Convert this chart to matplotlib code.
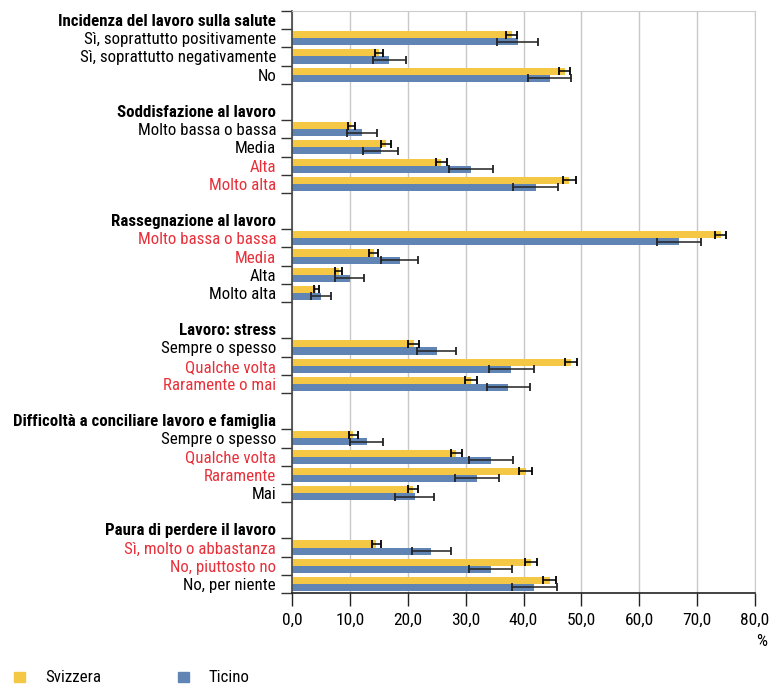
import matplotlib
matplotlib.use("Agg")
import matplotlib.pyplot as plt
import numpy as np
from matplotlib.patches import Rectangle

plt.rcParams['font.family'] = ['Roboto Condensed', 'Archivo Narrow', 'PT Sans Narrow', 'DejaVu Sans']

groups = ["Incidenza del lavoro sulla salute", "Soddisfazione al lavoro",
          "Rassegnazione al lavoro", "Lavoro: stress",
          "Difficoltà a conciliare lavoro e famiglia", "Paura di perdere il lavoro"]
group_sizes = [3, 4, 4, 3, 4, 3]
categories = ["Sì, soprattutto positivamente", "Sì, soprattutto negativamente", "No",
              "Molto bassa o bassa", "Media", "Alta", "Molto alta",
              "Molto bassa o bassa", "Media", "Alta", "Molto alta",
              "Sempre o spesso", "Qualche volta", "Raramente o mai",
              "Sempre o spesso", "Qualche volta", "Raramente", "Mai",
              "Sì, molto o abbastanza", "No, piuttosto no", "No, per niente"]
highlight = [False, False, False,
             False, False, True, True,
             True, True, False, False,
             False, True, True,
             False, True, True, False,
             True, True, False]
svizzera = [38.0, 15.0, 47.1,
            10.2, 16.3, 25.8, 47.9,
            74.1, 14.1, 8.1, 4.2,
            21.0, 48.2, 30.9,
            10.6, 28.4, 40.4, 20.9,
            14.6, 41.3, 44.5]
svizzera_err = [0.95, 0.7, 1.0,
                0.6, 0.85, 1.0, 1.1,
                0.95, 0.75, 0.6, 0.45,
                0.9, 1.05, 1.0,
                0.75, 1.0, 1.1, 0.9,
                0.7, 1.0, 1.05]
ticino = [39.0, 16.8, 44.5,
          12.1, 15.3, 30.9, 42.1,
          66.8, 18.6, 10.0, 5.0,
          25.0, 37.9, 37.4,
          12.9, 34.4, 31.9, 21.2,
          24.1, 34.3, 41.9]
ticino_err = [3.55, 2.85, 3.75,
              2.6, 2.95, 3.75, 3.9,
              3.8, 3.15, 2.5, 1.75,
              3.4, 3.9, 3.75,
              2.8, 3.85, 3.8, 3.4,
              3.35, 3.75, 3.9]

YELLOW = "#F4C744"
BLUE = "#6085B4"
RED = "#E8303A"
FS = 12.2

# build slot positions
labels, label_pos, label_bold, label_red = [], [], [], []
bar_pos = []
boundaries = []
slot = 0
k = 0
for gi, (g, n) in enumerate(zip(groups, group_sizes)):
    if gi > 0:
        slot += 1  # blank slot
    else:
        boundaries.append(slot - 0.5)
    labels.append(g); label_pos.append(slot); label_bold.append(True); label_red.append(False)
    boundaries.append(slot + 0.5)
    slot += 1
    for j in range(n):
        labels.append(categories[k]); label_pos.append(slot)
        label_bold.append(False); label_red.append(highlight[k])
        bar_pos.append(slot)
        boundaries.append(slot + 0.5)
        slot += 1
        k += 1
nslots = slot
bar_pos = np.array(bar_pos, dtype=float)

fig = plt.figure(figsize=(7.82, 6.86), dpi=100)
ax = fig.add_axes([292/782, 1 - 593/686, (755-292)/782, (593-11)/686])

h = 0.39
ax.barh(bar_pos - h/2, svizzera, height=h, color=YELLOW, zorder=2)
ax.barh(bar_pos + h/2, ticino, height=h, color=BLUE, zorder=2)
ax.errorbar(svizzera, bar_pos - h/2, xerr=svizzera_err, fmt='none', ecolor='black',
            elinewidth=1.1, capsize=2.9, capthick=1.3, zorder=3)
ax.errorbar(ticino, bar_pos + h/2, xerr=ticino_err, fmt='none', ecolor='#222222',
            elinewidth=1.1, capsize=2.9, capthick=1.3, zorder=3)

ax.set_xlim(0, 80)
ax.set_ylim(nslots - 0.5, -0.5)
ax.set_xticks(np.arange(0, 81, 10))
ax.set_xticklabels([f"{v:.1f}".replace('.', ',') for v in np.arange(0, 81, 10)], fontsize=12.5)
ax.xaxis.grid(True, color='#c8c8c8', linewidth=1, zorder=0)
ax.set_axisbelow(True)
ax.tick_params(axis='x', length=9, width=1, color='#222222', pad=5.5)

ax.set_yticks(label_pos)
ax.set_yticklabels(labels, fontsize=FS)
for t, b, r in zip(ax.get_yticklabels(), label_bold, label_red):
    if b:
        t.set_fontweight('bold')
    if r:
        t.set_color(RED)
ax.tick_params(axis='y', which='major', length=0, pad=11.5)
ax.set_yticks(boundaries, minor=True)
ax.tick_params(axis='y', which='minor', length=8, width=1, color='#333333')

for s in ['top', 'right']:
    ax.spines[s].set_color('#cccccc')
ax.spines['left'].set_color('#444444')
ax.spines['bottom'].set_color('#222222')
ax.spines['left'].set_linewidth(1.2)
ax.spines['bottom'].set_linewidth(1.2)

fig.text(767/782, 1 - 642/686, "%", ha='right', va='center', fontsize=12.5)

# legend
fig.patches.append(Rectangle((14/782, 1 - 682/686), 11/782, 10/686, transform=fig.transFigure,
                             color=YELLOW, figure=fig))
fig.text(45/782, 1 - 678/686, "Svizzera", ha='left', va='center', fontsize=FS)
fig.patches.append(Rectangle((178/782, 1 - 682/686), 11/782, 10/686, transform=fig.transFigure,
                             color=BLUE, figure=fig))
fig.text(209/782, 1 - 678/686, "Ticino", ha='left', va='center', fontsize=FS)

fig.savefig("out.png", dpi=100)
